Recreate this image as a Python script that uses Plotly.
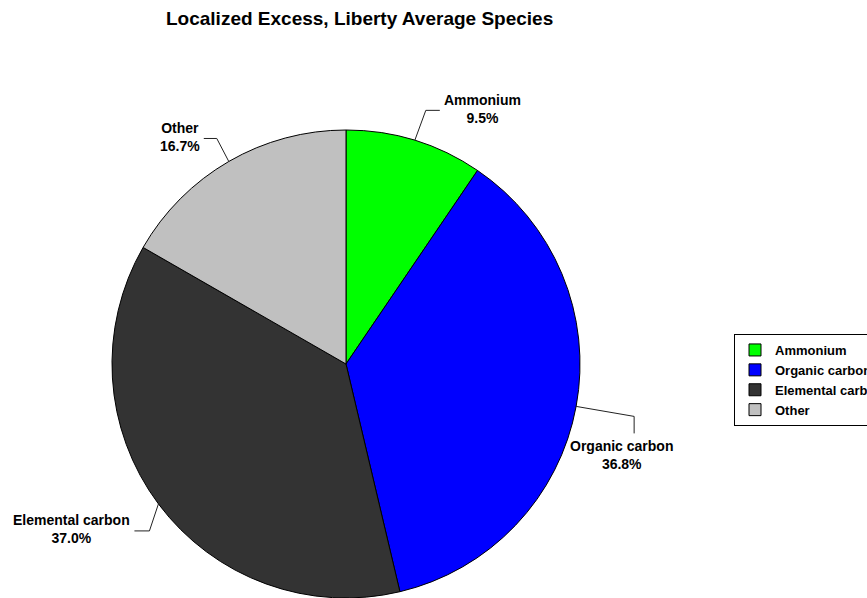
import math
import plotly.graph_objects as go

# ---- data ----
labels = ["Ammonium", "Organic carbon", "Elemental carbon", "Other"]
values = [9.5, 36.8, 37.0, 16.7]
colors = ["#00FF00", "#0000FF", "#333333", "#C0C0C0"]
title_text = "Localized Excess, Liberty Average Species"

# ---- layout constants (pixels) ----
W, H = 867, 598
CX, CY, R = 346, 364, 234
FONT = "Arial, Liberation Sans, sans-serif"
# leader-line styling per slice: first segment (dx, dy) from rim, then tail (dx, dy)
leader_vec = [(11, -30), (58, 10), (-9, 27), (-12, -23)]
tail_vec = [(14, 0), (0, 17), (-15, 0), (-13, 0)]


def px(x):
    return x / W


def py(y):
    return 1 - y / H


fig = go.Figure()
fig.add_trace(go.Pie(
    labels=labels,
    values=values,
    sort=False,
    direction="clockwise",
    rotation=0,
    textinfo="none",
    hoverinfo="label+percent",
    marker=dict(colors=colors, line=dict(color="#000000", width=1)),
    domain=dict(x=[px(CX - R), px(CX + R)], y=[py(CY + R), py(CY - R)]),
))

total = sum(values)
cum = 0.0
shapes, annotations = [], []
for lab, v, lv, tv in zip(labels, values, leader_vec, tail_vec):
    mid = (cum + v / 2) / total * 2 * math.pi
    cum += v
    s, c = math.sin(mid), math.cos(mid)
    x0, y0 = CX + R * s, CY - R * c
    x1, y1 = x0 + lv[0], y0 + lv[1]
    x2, y2 = x1 + tv[0], y1 + tv[1]
    txt = f"<b>{lab}</b><br><b>{v / total * 100:.1f}%</b>"
    if tv[0] == 0:
        ann = dict(x=px(x2), y=py(y2 + 3), xanchor="center", yanchor="top",
                   xshift=-13 if s > 0 else 13)
    else:
        ann = dict(x=px(x2 + (2 if tv[0] > 0 else -2)), y=py(y2 - 1.5),
                   xanchor="left" if tv[0] > 0 else "right", yanchor="middle")
    for (a, b, cc, d) in [(x0, y0, x1, y1), (x1, y1, x2, y2)]:
        shapes.append(dict(type="line", xref="paper", yref="paper",
                           x0=px(a), y0=py(b), x1=px(cc), y1=py(d),
                           line=dict(color="#222222", width=1)))
    annotations.append(dict(text=txt, xref="paper", yref="paper", showarrow=False,
                            align="center", font=dict(family=FONT, size=14, color="#000000"),
                            **ann))

annotations.append(dict(text=f"<b>{title_text}</b>", xref="paper", yref="paper",
                        x=px(359), y=py(19), xanchor="center", yanchor="middle",
                        showarrow=False, font=dict(family=FONT, size=19, color="#000000")))

fig.update_layout(
    width=W, height=H,
    margin=dict(l=0, r=0, t=0, b=0, autoexpand=False),
    paper_bgcolor="white", plot_bgcolor="white",
    shapes=shapes, annotations=annotations,
    showlegend=True,
    legend=dict(x=px(734), y=py(334), xanchor="left", yanchor="top",
                bordercolor="#000000", borderwidth=1, bgcolor="white",
                font=dict(family=FONT, size=13, color="#000000", weight="bold"),
                itemwidth=30, tracegroupgap=0),
)

fig.write_html("out.html")
